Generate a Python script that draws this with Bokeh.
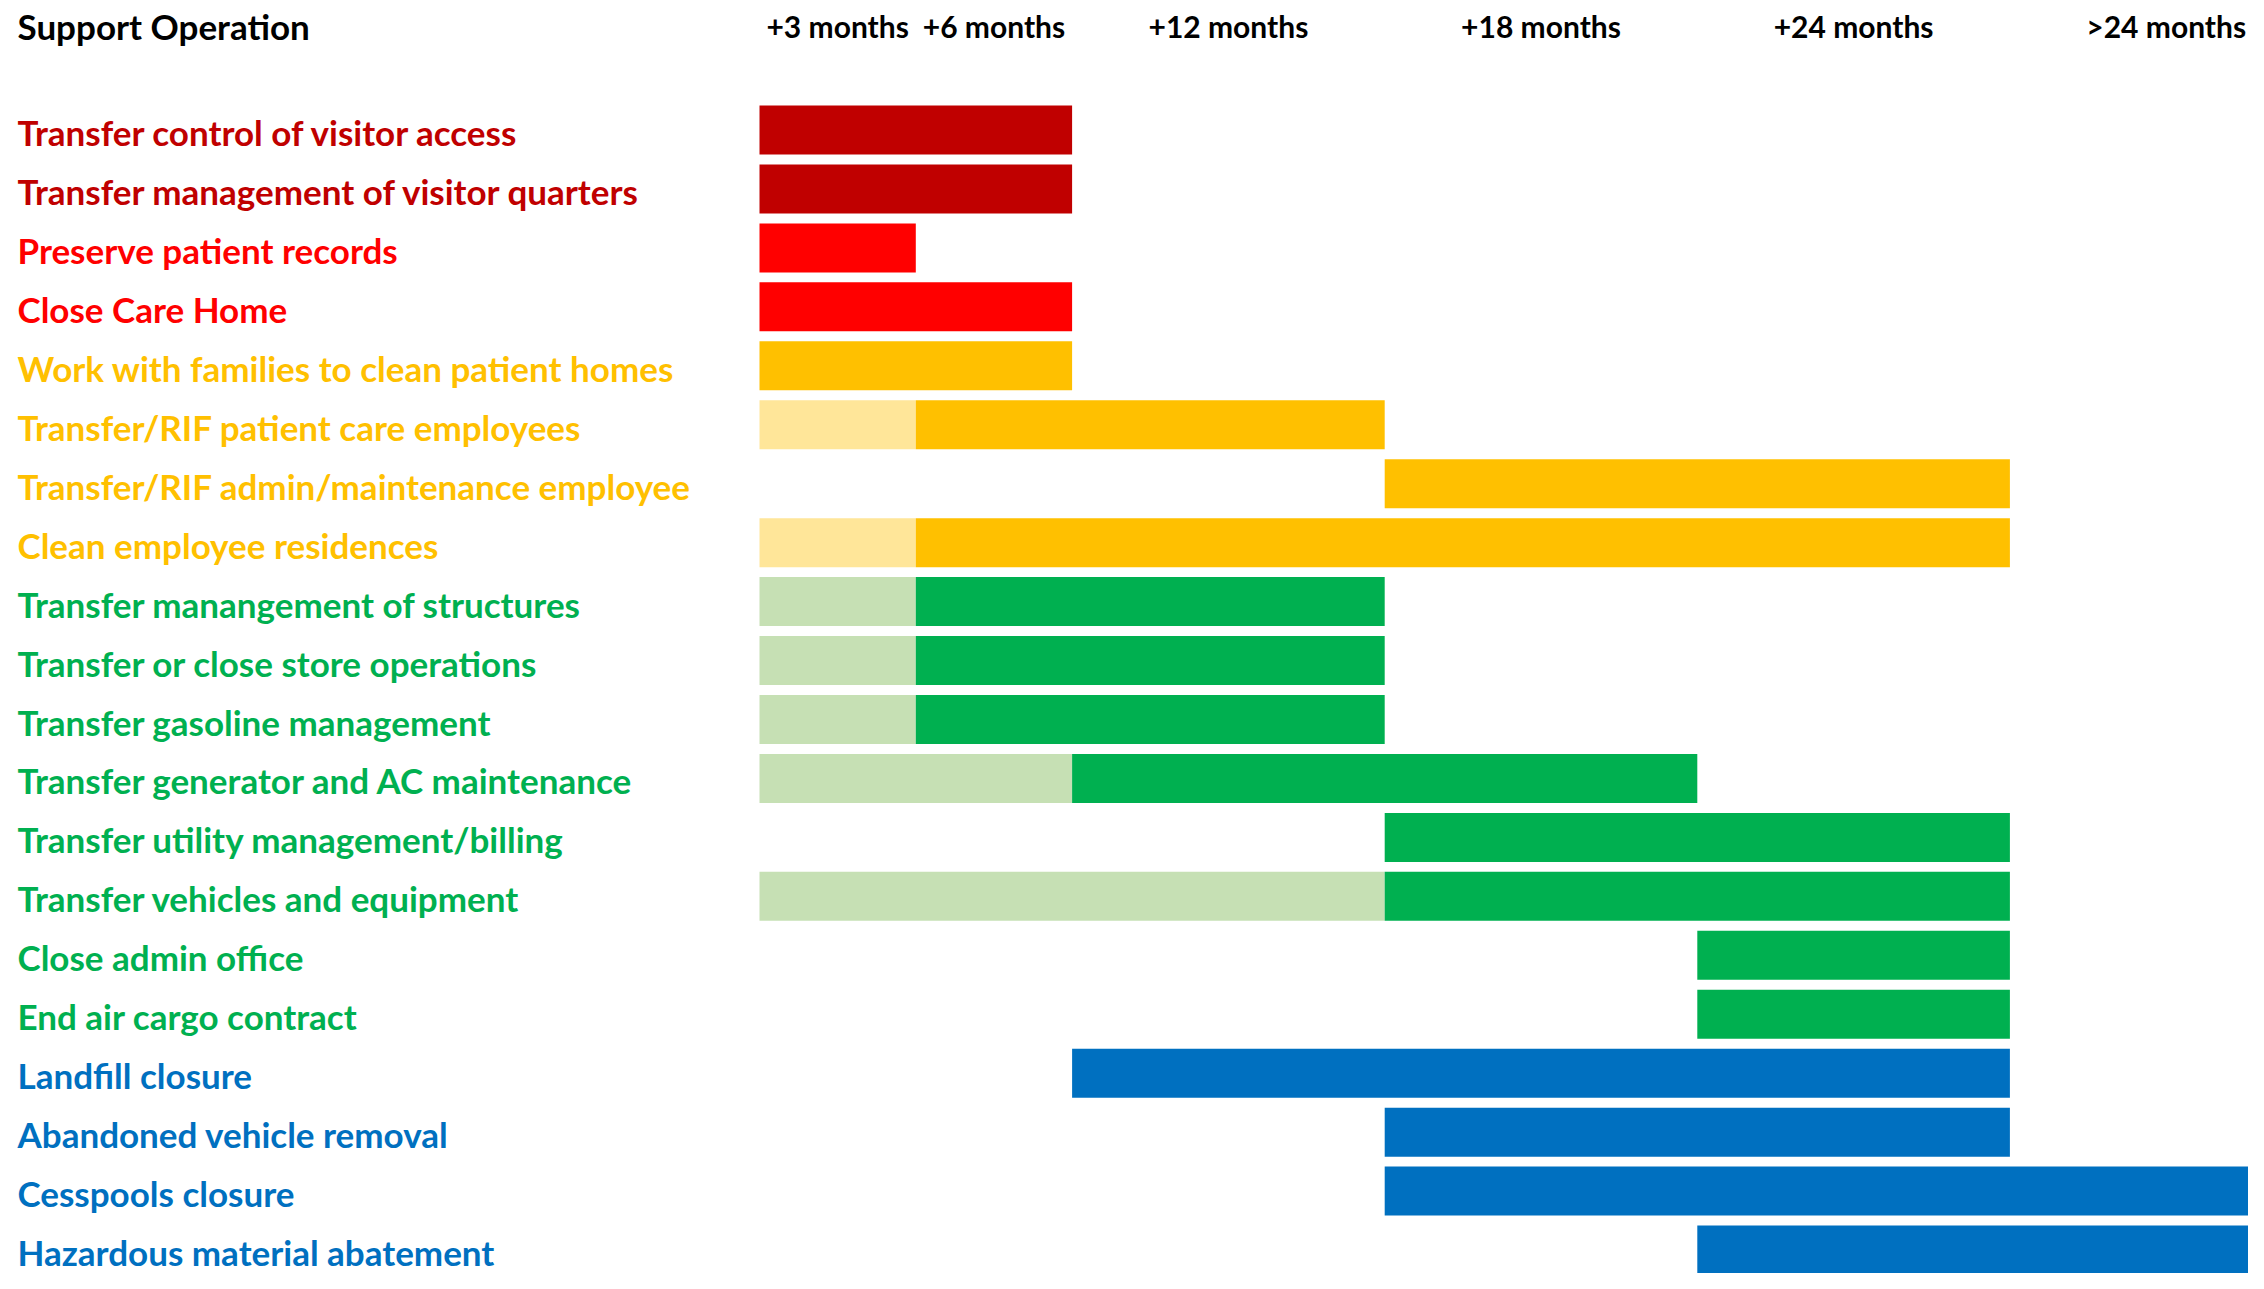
from bokeh.plotting import figure
from bokeh.models import ColumnDataSource, Range1d
from bokeh.core.properties import value
from bokeh.embed import file_html
from bokeh.resources import INLINE

# ---------------- data ----------------
title = "Support Operation"
period_labels = ["+3 months", "+6 months", "+12 months", "+18 months", "+24 months", ">24 months"]
period_bounds = [0, 3, 6, 12, 18, 24, 30]   # months

tasks = [
    "Transfer control of visitor access",
    "Transfer management of visitor quarters",
    "Preserve patient records",
    "Close Care Home",
    "Work with families to clean patient homes",
    "Transfer/RIF patient care employees",
    "Transfer/RIF admin/maintenance employee",
    "Clean employee residences",
    "Transfer manangement of structures",
    "Transfer or close store operations",
    "Transfer gasoline management",
    "Transfer generator and AC maintenance",
    "Transfer utility management/billing",
    "Transfer vehicles and equipment",
    "Close admin office",
    "End air cargo contract",
    "Landfill closure",
    "Abandoned vehicle removal",
    "Cesspools closure",
    "Hazardous material abatement",
]
groups = ["visitor", "visitor", "care", "care", "staff", "staff", "staff", "staff",
          "facility", "facility", "facility", "facility", "facility", "facility", "facility", "facility",
          "environment", "environment", "environment", "environment"]
prep_start = [None, None, None, None, None, 0, None, 0, 0, 0, 0, 0, None, 0, None, None, None, None, None, None]
prep_end   = [None, None, None, None, None, 3, None, 3, 3, 3, 3, 6, None, 12, None, None, None, None, None, None]
main_start = [0, 0, 0, 0, 0, 3, 12, 3, 3, 3, 3, 6, 12, 12, 18, 18, 6, 12, 12, 18]
main_end   = [6, 6, 3, 6, 6, 12, 24, 24, 12, 12, 12, 18, 24, 24, 24, 24, 24, 24, 30, 30]

group_dark = {"visitor": "#C00000", "care": "#FF0000", "staff": "#FFC000",
              "facility": "#00B050", "environment": "#0070C0"}
group_light = {"staff": "#FFE699", "facility": "#C6E0B4"}

# ---------------- layout ----------------
W, H = 2248, 1273
PX_PER_MONTH = 52.1
X0 = 759.0          # x pixel of month 0
ROW0 = 129.5        # y pixel of first row centre
ROW_STEP = 58.95

x_start = (0 - X0) / PX_PER_MONTH
x_end = (W - X0) / PX_PER_MONTH
y_top = (0 - ROW0) / ROW_STEP
y_bot = (H - ROW0) / ROW_STEP

p = figure(width=W, height=H, output_backend="svg", toolbar_location=None,
           x_range=Range1d(x_start, x_end), y_range=Range1d(y_bot, y_top),
           x_axis_location=None, y_axis_location=None, min_border=0,
           background_fill_color="white", border_fill_color="white")
p.outline_line_color = None
p.xgrid.visible = False
p.ygrid.visible = False

rows = list(range(len(tasks)))
BAR_H = 49.0 / ROW_STEP

# light (preparation) segments
li = [i for i in rows if prep_start[i] is not None]
p.hbar(y=li, left=[prep_start[i] for i in li], right=[prep_end[i] for i in li],
       height=BAR_H, fill_color=[group_light[groups[i]] for i in li], line_color=None)

# main segments
p.hbar(y=rows, left=main_start, right=main_end, height=BAR_H,
       fill_color=[group_dark[g] for g in groups], line_color=None)

FONT = value("Lato")

# task labels
src = ColumnDataSource(dict(x=[x_start] * len(tasks), y=rows, t=tasks,
                            c=[group_dark[g] for g in groups]))
p.text(x="x", y="y", text="t", text_color="c", source=src, x_offset=17, y_offset=2,
       text_font=FONT, text_font_size="35px", text_font_style="bold",
       text_baseline="middle", text_align="left")

# header
head_y = (25 - ROW0) / ROW_STEP
p.text(x=[x_start], y=[head_y], text=[title], x_offset=17,
       text_font=FONT, text_font_size="35px", text_font_style="bold",
       text_baseline="middle", text_align="left", text_color="black")

mids = [(period_bounds[k] + period_bounds[k + 1]) / 2 for k in range(len(period_labels))]
p.text(x=mids, y=[head_y] * len(mids), text=period_labels,
       text_font=FONT, text_font_size="30px", text_font_style="bold",
       text_baseline="middle", text_align="center", text_color="black")

open("out.html", "w").write(file_html(p, INLINE))
